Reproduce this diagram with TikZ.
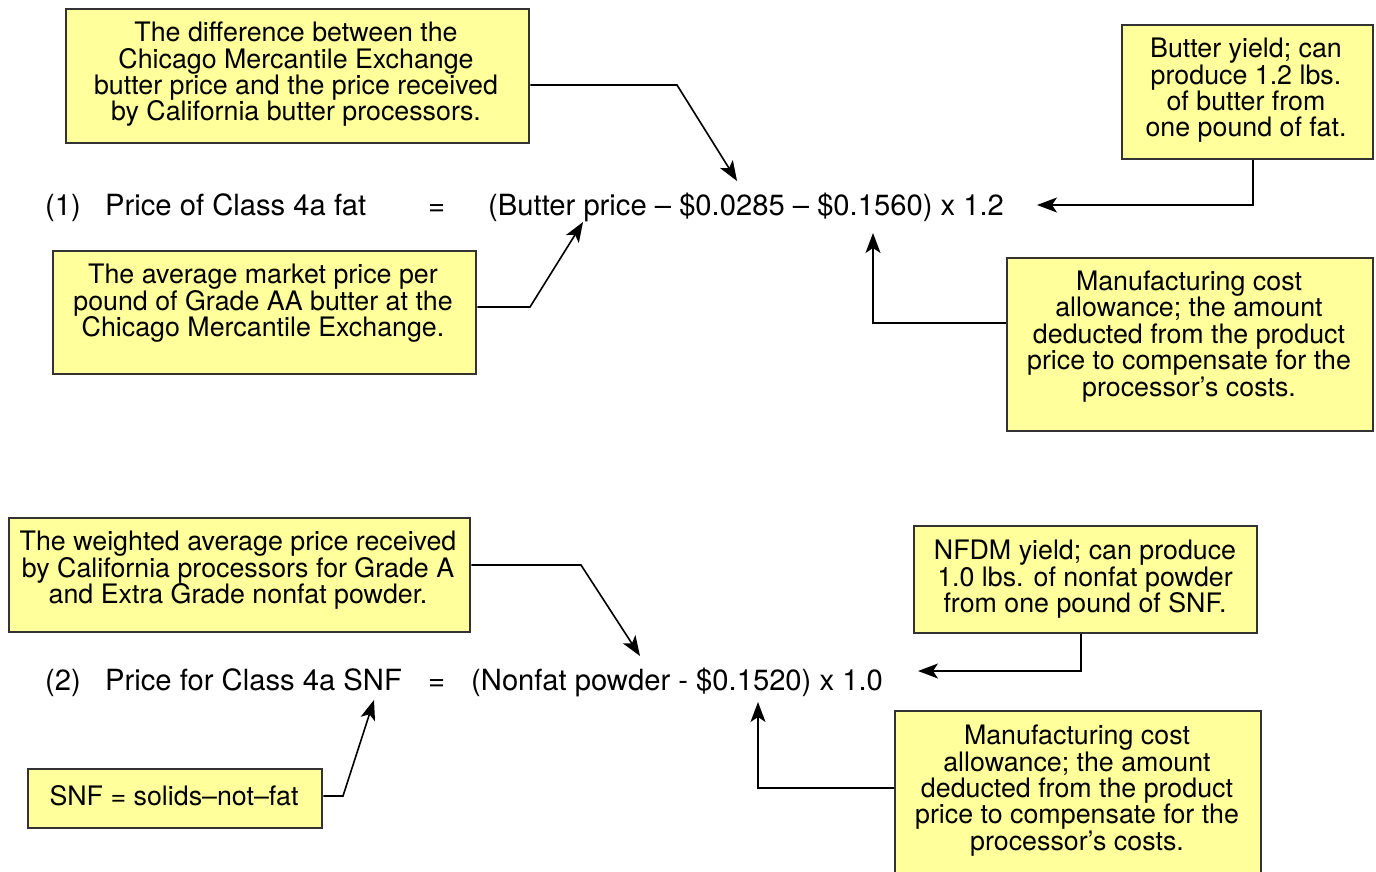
\documentclass[tikz,border=0pt]{standalone}
\usepackage{fontspec}
\setmainfont{TeX Gyre Heros}
\usetikzlibrary{arrows.meta}
\definecolor{boxfill}{HTML}{FFFF9C}
\definecolor{boxborder}{HTML}{333333}
\begin{document}
\begin{tikzpicture}[x=1pt,y=-1pt,
  box/.style={draw=boxborder, line width=2.4pt, fill=boxfill, anchor=north west, inner sep=0pt},
  txt/.style={align=center, font=\fontsize{26.8}{26.4}\selectfont, inner sep=0pt},
  eq/.style={anchor=base west, font=\fontsize{29.2}{30}\selectfont, inner sep=0pt},
  conn/.style={line width=1.6pt, -{Stealth[length=20pt,width=15pt,inset=5pt]}}]
\clip (0,0) rectangle (1376,871);
\fill[white] (0,0) rectangle (1376,871);

% boxes
\node[box, minimum width=463pt, minimum height=134pt] (boxA) at (65,8) {};
\node[box, minimum width=251pt, minimum height=134pt] (boxB) at (1121,24) {};
\node[box, minimum width=423pt, minimum height=123pt] (boxC) at (52,250) {};
\node[box, minimum width=366pt, minimum height=173pt] (boxD) at (1006,257) {};
\node[box, minimum width=461pt, minimum height=114pt] (boxE) at (8,517) {};
\node[box, minimum width=343pt, minimum height=107pt] (boxF) at (913,525) {};
\node[box, minimum width=294pt, minimum height=59pt] (boxG) at (27,768) {};
\node[box, minimum width=366pt, minimum height=170pt] (boxH) at (894,710) {};

% box texts
\node[txt] (tA) at (296,74.5) {The difference between the\\Chicago Mercantile Exchange\\butter price and the price received\\by California butter processors.};
\node[txt] (tB) at (1246,90.5) {Butter yield; can\\produce 1.2 lbs.\\of butter from\\one pound of fat.};
\node[txt] (tC) at (263,303.5) {The average market price per\\pound of Grade AA butter at the\\Chicago Mercantile Exchange.};
\node[txt] (tD) at (1189,336.5) {Manufacturing cost\\allowance; the amount\\deducted from the product\\price to compensate for the\\processor’s costs.};
\node[txt] (tE) at (238,570.5) {The weighted average price received\\by California processors for Grade A\\and Extra Grade nonfat powder.};
\node[txt] (tF) at (1085,579.5) {NFDM yield; can produce\\1.0 lbs. of nonfat powder\\from one pound of SNF.};
\node[txt] (tG) at (174,796) {SNF = solids–not–fat};
\node[txt] (tH) at (1077,790.5) {Manufacturing cost\\allowance; the amount\\deducted from the product\\price to compensate for the\\processor’s costs.};

% equation 1
\node[eq] (n1) at (45,215) {(1)};
\node[eq] (l1) at (105,215) {Price of Class 4a fat};
\node[eq] (e1) at (428,215) {=};
\node[eq] (r1) at (488,215) {(Butter price – \$0.0285 – \$0.1560) x 1.2};

% equation 2
\node[eq] (n2) at (45,690) {(2)};
\node[eq] (l2) at (105,690) {Price for Class 4a SNF};
\node[eq] (e2) at (428,690) {=};
\node[eq] (r2) at (471,690) {(Nonfat powder - \$0.1520) x 1.0};

% arrow targets and corners
\coordinate (pA) at (737,181);  \coordinate (cA) at (677,85);
\coordinate (pB) at (1037,205); \coordinate (cB) at (1253,205);
\coordinate (pC) at (583,222);  \coordinate (cC) at (530,307);
\coordinate (pD) at (873,233);  \coordinate (cD) at (873,323);
\coordinate (pE) at (640,656);  \coordinate (cE) at (581,565);
\coordinate (pF) at (918,671);  \coordinate (cF) at (1081,671);
\coordinate (pG) at (374,700);  \coordinate (cG) at (343,796);
\coordinate (pH) at (758,702);  \coordinate (cH) at (758,788);

% connectors
\draw[conn] (boxA.east |- cA) -- (cA) -- (pA);
\draw[conn] (boxB.south -| cB) -- (cB) -- (pB);
\draw[conn] (boxC.east |- cC) -- (cC) -- (pC);
\draw[conn] (boxD.west |- cD) -- (cD) -- (pD);
\draw[conn] (boxE.east |- cE) -- (cE) -- (pE);
\draw[conn] (boxF.south -| cF) -- (cF) -- (pF);
\draw[conn] (boxG.east |- cG) -- (cG) -- (pG);
\draw[conn] (boxH.west |- cH) -- (cH) -- (pH);
\end{tikzpicture}
\end{document}
